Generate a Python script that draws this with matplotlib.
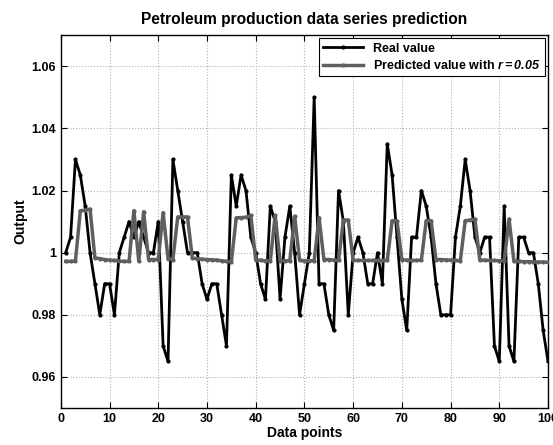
import matplotlib
matplotlib.use("Agg")
import matplotlib.pyplot as plt
from matplotlib.ticker import FuncFormatter

plt.rcParams['font.family'] = ['Liberation Sans', 'DejaVu Sans']
plt.rcParams['font.weight'] = 'bold'
# mathtext only used for the "r=0.05" part of the legend -> bold italic
plt.rcParams['mathtext.fontset'] = 'custom'
plt.rcParams['mathtext.it'] = 'Liberation Sans:italic:bold'
plt.rcParams['mathtext.rm'] = 'Liberation Sans:italic:bold'

# data points 1..100
x_points = list(range(1, 101))

real_value = [
    1.000, 1.005, 1.030, 1.025, 1.015, 1.000, 0.990, 0.980, 0.990, 0.990,
    0.980, 1.000, 1.005, 1.010, 1.005, 1.010, 1.005, 1.000, 1.000, 1.010,
    0.970, 0.965, 1.030, 1.020, 1.010, 1.000, 1.000, 1.000, 0.990, 0.985,
    0.990, 0.990, 0.980, 0.970, 1.025, 1.015, 1.025, 1.020, 1.005, 1.000,
    0.990, 0.985, 1.015, 1.010, 0.985, 1.005, 1.015, 1.000, 0.980, 0.990,
    1.000, 1.050, 0.990, 0.990, 0.980, 0.975, 1.020, 1.010, 0.980, 1.000,
    1.005, 1.000, 0.990, 0.990, 1.000, 0.990, 1.035, 1.025, 1.005, 0.985,
    0.975, 1.005, 1.005, 1.020, 1.015, 1.005, 0.990, 0.980, 0.980, 0.980,
    1.005, 1.015, 1.030, 1.020, 1.005, 1.000, 1.005, 1.005, 0.970, 0.965,
    1.015, 0.970, 0.965, 1.005, 1.005, 1.000, 1.000, 0.990, 0.975, 0.965,
]

predicted_value = [
    0.9972, 0.9972, 0.9973, 1.0135, 1.0137, 1.0140, 0.9983, 0.9981, 0.9978, 0.9976,
    0.9975, 0.9973, 0.9972, 0.9972, 1.0135, 0.9972, 1.0132, 0.9978, 0.9978, 0.9978,
    1.0129, 0.9981, 0.9978, 1.0115, 1.0115, 1.0115, 0.9982, 0.9981, 0.9979, 0.9978,
    0.9977, 0.9976, 0.9974, 0.9972, 0.9970, 1.0112, 1.0113, 1.0114, 1.0120, 0.9976,
    0.9976, 0.9974, 0.9974, 1.0120, 0.9974, 0.9974, 0.9974, 1.0117, 0.9976, 0.9974,
    0.9974, 0.9974, 1.0113, 0.9978, 0.9978, 0.9976, 0.9975, 1.0105, 1.0105, 0.9975,
    0.9975, 0.9975, 0.9975, 0.9975, 0.9975, 0.9975, 0.9975, 1.0103, 1.0103, 0.9978,
    0.9976, 0.9975, 0.9975, 0.9976, 1.0103, 1.0103, 0.9978, 0.9978, 0.9977, 0.9976,
    0.9975, 0.9974, 1.0103, 1.0105, 1.0108, 0.9976, 0.9976, 0.9975, 0.9975, 0.9974,
    0.9974, 1.0108, 0.9972, 0.9972, 0.9971, 0.9971, 0.9971, 0.9970, 0.9970, 0.9969,
]

x_ticks = [0, 10, 20, 30, 40, 50, 60, 70, 80, 90, 100]
y_ticks = [0.96, 0.98, 1.00, 1.02, 1.04, 1.06]

fig = plt.figure(figsize=(5.53, 4.45), dpi=100)
ax = fig.add_axes([0.110, 0.083, 0.881, 0.838])

ax.plot(x_points, real_value, color='black', linewidth=2.0, marker='.',
        markersize=4, label='Real value', zorder=3)
ax.plot(x_points, predicted_value, color='#5f5f5f', linewidth=2.5, marker='.',
        markersize=4, label=r'Predicted value with $r{=}0.05$', zorder=4)

ax.set_xlim(0, 100)
ax.set_ylim(0.95, 1.07)
ax.set_xticks(x_ticks)
ax.set_yticks(y_ticks)
ax.yaxis.set_major_formatter(FuncFormatter(lambda v, p: '%g' % round(v, 2)))
ax.tick_params(direction='in', top=True, right=True, labelsize=9, length=4, width=0.8)
ax.grid(True, linestyle=':', color='#b0b0b0', linewidth=0.8)
for s in ax.spines.values():
    s.set_linewidth(1.0)

ax.set_title('Petroleum production data series prediction', fontsize=11.2,
             fontweight='bold', pad=8)
ax.set_xlabel('Data points', fontsize=10, fontweight='bold', labelpad=1)
ax.set_ylabel('Output', fontsize=10, fontweight='bold', labelpad=3)

leg = ax.legend(loc='upper right', fontsize=9, fancybox=False, framealpha=1,
                edgecolor='black', borderpad=0.35, handlelength=3.2,
                labelspacing=0.35, borderaxespad=0.25)
leg.get_frame().set_linewidth(0.8)

fig.savefig('out.png', dpi=100)
